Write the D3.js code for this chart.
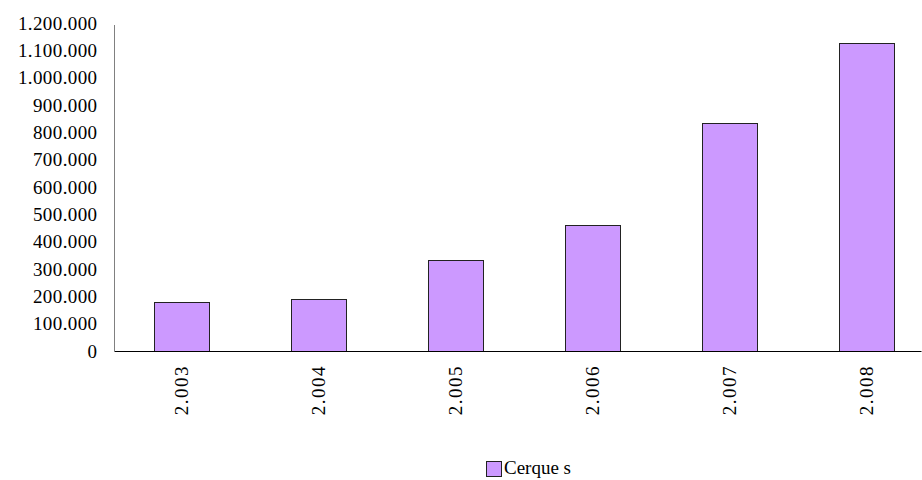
<!DOCTYPE html>
<html><head><meta charset="utf-8">
<script src="https://cdn.jsdelivr.net/npm/d3@7"></script>
<style>body{margin:0;background:#fff}svg{display:block}text{font-family:"Liberation Serif","DejaVu Serif",serif;fill:#000}</style>
</head><body><svg id="c" width="922" height="480"></svg>
<script>
const categories = ["2.003","2.004","2.005","2.006","2.007","2.008"];
const values = [180000, 189000, 334000, 460000, 833000, 1128000];
const yTicks = [0,100000,200000,300000,400000,500000,600000,700000,800000,900000,1000000,1100000,1200000];
const seriesName = "Cerque s";

const svg = d3.select("#c");
const x0 = 114.5, x1 = 933.2, yBase = 351, yTop = 23;
const x = d3.scaleBand().domain(categories).range([x0, x1]).paddingInner(0.6).paddingOuter(0.29);
const y = d3.scaleLinear().domain([0, 1200000]).range([yBase, yTop]);
const fmt = v => d3.format(",")(v).replace(/,/g, ".");

// y labels
svg.append("g").selectAll("text").data(yTicks).join("text")
  .attr("x", 97.5).attr("y", d => y(d)).attr("dy", "0.35em")
  .attr("text-anchor", "end").style("font-size", "19px").style("letter-spacing", "0.4px")
  .text(fmt);

// bars
svg.append("g").selectAll("rect").data(values).join("rect")
  .attr("x", (d,i) => Math.round(x(categories[i])) + 0.5)
  .attr("y", d => Math.round(y(d)) + 0.5)
  .attr("width", Math.round(x.bandwidth()))
  .attr("height", d => yBase - Math.round(y(d)))
  .attr("fill", "#CC99FF").attr("stroke", "#222").attr("stroke-width", 1);

// axes lines
svg.append("line").attr("x1", x0).attr("x2", x0).attr("y1", 25).attr("y2", yBase)
  .attr("stroke", "#808080").attr("stroke-width", 1);
svg.append("line").attr("x1", x0).attr("x2", 921.5).attr("y1", yBase + 0.5).attr("y2", yBase + 0.5)
  .attr("stroke", "#000").attr("stroke-width", 1);

// x labels rotated
svg.append("g").selectAll("text").data(categories).join("text")
  .attr("transform", d => `translate(${x(d) + x.bandwidth()/2},365) rotate(-90)`)
  .attr("text-anchor", "end").attr("dy", "0.35em")
  .style("font-size", "19px").style("letter-spacing", "1.5px")
  .text(d => d);

// legend
svg.append("rect").attr("x", 486.5).attr("y", 461.5).attr("width", 15).attr("height", 15)
  .attr("fill", "#CC99FF").attr("stroke", "#222");
svg.append("text").attr("x", 504).attr("y", 474).style("font-size", "19px").text(seriesName);
</script></body></html>
